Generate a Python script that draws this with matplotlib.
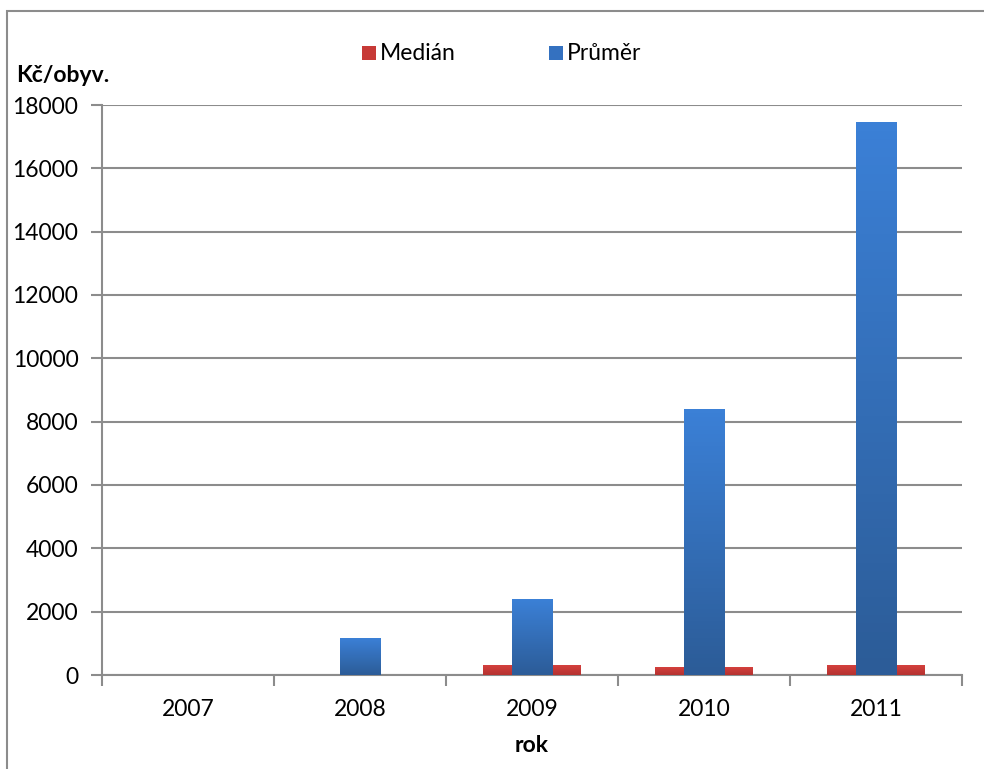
import numpy as np
import matplotlib
matplotlib.use('Agg')
import matplotlib.pyplot as plt
from matplotlib.patches import Rectangle

years = ['2007', '2008', '2009', '2010', '2011']
median = [0, 0, 290, 250, 290]
prumer = [0, 1150, 2400, 8400, 17450]

plt.rcParams['font.family'] = ['Lato', 'DejaVu Sans']
FS = 16.5

fig = plt.figure(figsize=(9.84, 7.69), dpi=100)
ax = fig.add_axes([102/984, 1-675/769, 860/984, 570/769])

x = np.arange(len(years))
grey = '#8c8c8c'


def grad_bar(ax, xc, h, w, top, bottom, z):
    if h <= 0:
        return
    g = np.linspace(0, 1, 64).reshape(-1, 1)
    c0 = np.array(matplotlib.colors.to_rgb(bottom))
    c1 = np.array(matplotlib.colors.to_rgb(top))
    img = c0 + (c1 - c0) * g[..., None]
    ax.imshow(img, extent=[xc - w/2, xc + w/2, 0, h], origin='lower',
              aspect='auto', zorder=z)


for i in range(len(years)):
    grad_bar(ax, x[i], median[i], 0.565, '#d4403d', '#b53230', 3)
    grad_bar(ax, x[i], prumer[i], 0.233, '#3b80d6', '#2c5c98', 4)

ax.set_xlim(-0.5, 4.5)
ax.set_ylim(0, 18000)
ax.set_yticks(np.arange(0, 18001, 2000))
ax.set_yticklabels([str(v) for v in range(0, 18001, 2000)], fontsize=FS)
ax.set_xticks(x)
ax.set_xticklabels(years, fontsize=FS)
ax.set_xticks(np.arange(-0.5, 5, 1), minor=True)
ax.tick_params(axis='x', which='major', length=0, pad=17)
ax.tick_params(axis='x', which='minor', length=8, color=grey, width=1.5)
ax.tick_params(axis='y', length=8, color=grey, width=1.5, pad=9)
ax.grid(axis='y', color=grey, linewidth=1.5, zorder=0)
ax.set_axisbelow(True)
for s in ['top', 'right']:
    ax.spines[s].set_visible(False)
for s in ['left', 'bottom']:
    ax.spines[s].set_color(grey)
    ax.spines[s].set_linewidth(1.5)

fig.text(16/984, 1-75/769, 'Kč/obyv.', fontsize=FS, fontweight='bold', va='center')
fig.text(532/984, 1-745/769, 'rok', fontsize=FS, fontweight='bold', ha='center', va='center')

# legend
fig.patches.append(Rectangle((362/984, 1-60/769), 14/984, 14/769, transform=fig.transFigure,
                             facecolor='#c73a37', edgecolor='none'))
fig.text(380/984, 1-53/769, 'Medián', fontsize=FS, va='center')
fig.patches.append(Rectangle((549/984, 1-60/769), 14/984, 14/769, transform=fig.transFigure,
                             facecolor='#3471c0', edgecolor='none'))
fig.text(567/984, 1-53/769, 'Průměr', fontsize=FS, va='center')

# chart border
fig.patches.append(Rectangle((7/984, -0.1), 1.1, 1 - 11/769 + 0.1, transform=fig.transFigure,
                             facecolor='none', edgecolor='#8c8c8c', linewidth=1.5))

fig.savefig('out.png', dpi=100)
